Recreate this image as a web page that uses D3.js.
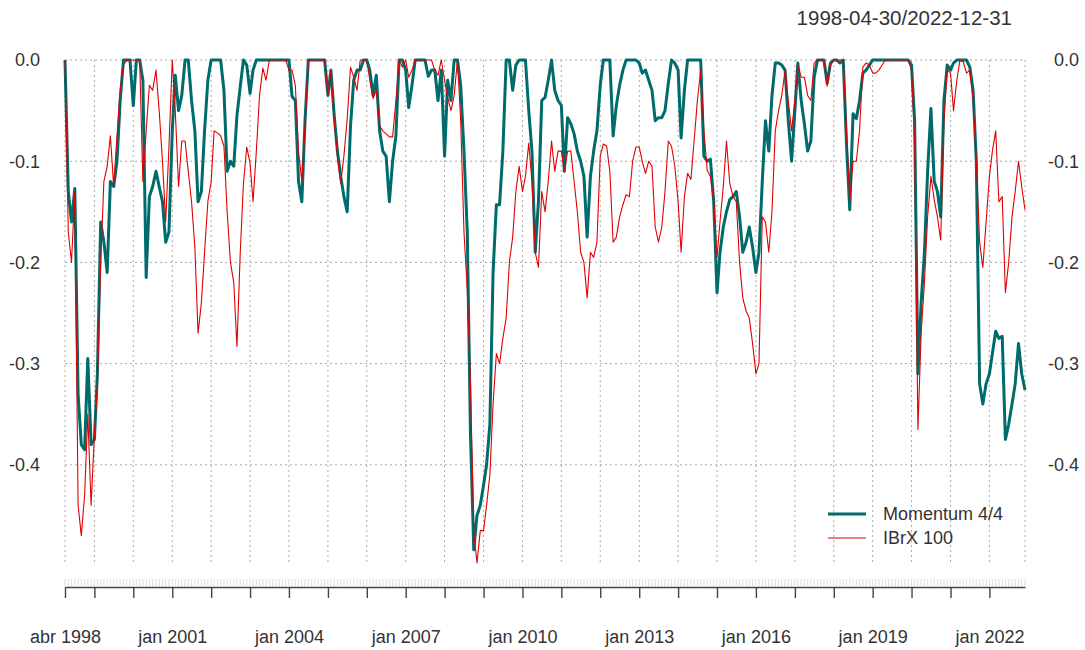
<!DOCTYPE html>
<html>
<head>
<meta charset="utf-8">
<script src="https://cdn.jsdelivr.net/npm/d3@7"></script>
<style>
	body { margin: 0; background: #fff; }
	svg text { font-family: 'Liberation Sans', Arial, sans-serif; fill: #333; }
</style>
</head>
<body>
<div id="chart"></div>
<script>
const w = 1085;
const h = 650;

// month-end observations, 1998-04-30 .. 2022-12-31
const dates = d3.range(297).map(i => new Date(1998, 4 + i, 0));

// drawdowns, one row per year
const momentum = [
	0, -0.13, -0.16, -0.127, -0.33, -0.38, -0.385, -0.295, -0.38,
	-0.375, -0.31, -0.16, -0.18, -0.21, -0.12, -0.125, -0.1, -0.04, 0, 0, 0,
	-0.045, 0, 0, -0.02, -0.215, -0.135, -0.125, -0.11, -0.125, -0.14, -0.18, -0.17,
	-0.07, -0.015, -0.05, -0.035, 0, 0, -0.04, -0.07, -0.14, -0.13, -0.07, -0.02,
	0, 0, 0, 0, -0.03, -0.11, -0.1, -0.105, -0.055, -0.026, 0, -0.005,
	-0.033, -0.01, 0, 0, 0, 0, 0, 0, 0, 0, 0, 0,
	0, -0.036, -0.04, -0.12, -0.14, -0.06, 0, 0, 0, 0, 0, 0,
	-0.035, -0.01, -0.055, -0.09, -0.115, -0.135, -0.15, -0.065, -0.02, -0.01, -0.01, 0,
	0, -0.01, -0.035, -0.015, -0.07, -0.09, -0.095, -0.14, -0.1, -0.075, 0, 0,
	-0.01, -0.047, -0.025, 0, 0, 0, 0, -0.016, -0.01, -0.01, -0.04, -0.01,
	-0.095, -0.02, -0.04, 0, 0, -0.025, -0.09, -0.17, -0.37, -0.484, -0.45, -0.44,
	-0.42, -0.4, -0.36, -0.21, -0.143, -0.143, -0.09, 0, 0, -0.03, -0.005, 0,
	0, 0, -0.05, -0.09, -0.19, -0.14, -0.04, -0.037, -0.02, 0, -0.03, -0.04,
	-0.045, -0.11, -0.057, -0.063, -0.073, -0.09, -0.1, -0.115, -0.175, -0.115, -0.09, -0.07,
	-0.025, 0, 0, 0, -0.075, -0.045, -0.025, -0.01, 0, 0, 0, 0,
	-0.003, -0.013, -0.01, -0.02, -0.03, -0.06, -0.057, -0.057, -0.05, -0.023, 0, -0.003,
	-0.01, -0.077, -0.03, 0, 0, 0, 0, 0, -0.095, -0.1, -0.098, -0.14,
	-0.23, -0.19, -0.165, -0.15, -0.138, -0.135, -0.13, -0.155, -0.19, -0.18, -0.165, -0.185,
	-0.21, -0.19, -0.12, -0.06, -0.09, -0.035, -0.003, -0.003, -0.005, -0.01, -0.06, -0.1,
	-0.05, -0.003, -0.04, -0.063, -0.09, -0.08, -0.017, 0, 0, 0, -0.023, -0.003,
	0, 0, -0.003, 0, -0.085, -0.148, -0.053, -0.058, -0.04, -0.013, -0.01, -0.005,
	0, 0, 0, 0, 0, 0, 0, 0, 0, 0, 0, 0,
	-0.005, -0.06, -0.31, -0.24, -0.19, -0.11, -0.048, -0.12, -0.13, -0.155, -0.04, -0.005,
	-0.01, -0.003, 0, 0, 0, 0, -0.007, -0.03, -0.1, -0.32, -0.34, -0.32,
	-0.31, -0.29, -0.268, -0.275, -0.273, -0.375, -0.36, -0.34, -0.32, -0.28, -0.31, -0.326
];

const ibrx = [
	0, -0.17, -0.2, -0.13, -0.44, -0.47, -0.43, -0.35, -0.44,
	-0.37, -0.32, -0.2, -0.12, -0.105, -0.075, -0.125, -0.075, -0.03, -0.005, 0, 0,
	0, 0, 0, -0.12, -0.07, -0.025, -0.03, -0.01, -0.05, -0.1, -0.16, -0.085,
	0, -0.05, -0.125, -0.08, -0.08, -0.11, -0.14, -0.185, -0.27, -0.24, -0.19, -0.14,
	-0.12, -0.07, -0.072, -0.075, -0.085, -0.15, -0.2, -0.22, -0.283, -0.19, -0.122, -0.086,
	-0.102, -0.14, -0.09, -0.035, -0.008, -0.02, 0, 0, 0, 0, 0, 0,
	-0.01, -0.01, -0.025, -0.09, -0.12, -0.065, 0, 0, 0, 0, 0, 0,
	-0.035, -0.01, -0.06, -0.095, -0.122, -0.095, -0.058, -0.007, -0.017, -0.03, 0, 0,
	0, -0.02, -0.038, -0.03, -0.065, -0.07, -0.073, -0.076, -0.076, -0.04, 0, -0.007,
	0, -0.017, -0.01, 0, 0, 0, 0, 0, 0, -0.01, -0.015, 0,
	-0.02, -0.037, -0.05, -0.035, 0, -0.06, -0.17, -0.227, -0.32, -0.467, -0.497, -0.465,
	-0.465, -0.44, -0.41, -0.34, -0.29, -0.3, -0.275, -0.255, -0.2, -0.175, -0.13, -0.105,
	-0.13, -0.115, -0.082, -0.12, -0.19, -0.205, -0.13, -0.15, -0.12, -0.08, -0.11, -0.09,
	-0.09, -0.11, -0.09, -0.09, -0.12, -0.15, -0.19, -0.2, -0.235, -0.19, -0.195, -0.18,
	-0.095, -0.083, -0.085, -0.11, -0.18, -0.175, -0.155, -0.143, -0.133, -0.135, -0.1, -0.086,
	-0.086, -0.1, -0.112, -0.1, -0.105, -0.165, -0.18, -0.165, -0.13, -0.08, -0.085, -0.105,
	-0.14, -0.19, -0.135, -0.112, -0.118, -0.08, -0.04, -0.01, -0.07, -0.109, -0.115, -0.14,
	-0.195, -0.16, -0.125, -0.08, -0.122, -0.135, -0.14, -0.2, -0.235, -0.248, -0.255, -0.28,
	-0.31, -0.3, -0.155, -0.16, -0.19, -0.15, -0.07, -0.05, -0.035, -0.01, -0.04, -0.07,
	-0.04, -0.005, -0.017, -0.017, -0.035, -0.04, -0.003, 0, 0, 0, -0.026, -0.005,
	0, 0, 0, 0, -0.07, -0.14, -0.1, -0.1, -0.07, -0.007, -0.003, -0.005,
	-0.013, -0.013, -0.01, -0.005, 0, 0, 0, 0, 0, 0, 0, 0,
	-0.01, -0.08, -0.365, -0.27, -0.22, -0.155, -0.115, -0.138, -0.155, -0.178, -0.06, -0.01,
	-0.013, -0.05, -0.02, 0, -0.002, -0.013, -0.01, -0.04, -0.1, -0.18, -0.205, -0.16,
	-0.115, -0.09, -0.07, -0.14, -0.135, -0.23, -0.2, -0.155, -0.13, -0.1, -0.125, -0.148
];

const seriesNames = ['Momentum 4/4', 'IBrX 100'];
const seriesColors = ['#006b6b', '#e00000'];
const yTicks = [0, -0.1, -0.2, -0.3, -0.4];
const xLabels = ['abr 1998', 'jan 2001', 'jan 2004', 'jan 2007', 'jan 2010', 'jan 2013', 'jan 2016', 'jan 2019', 'jan 2022'];
const title = '1998-04-30/2022-12-31';

const plotLeft = 65;
const plotRight = 1025;
const plotTop = 60;
const plotBottom = 563;
const axisY = 587;

const svg = d3
	.select('#chart')
	.append('svg')
	.attr('width', w)
	.attr('height', h)
	.style('background-color', '#fff');

const xScale = d3
	.scaleTime()
	.domain([dates[0], dates[dates.length - 1]])
	.range([plotLeft, plotRight]);

const yScale = d3
	.scaleLinear()
	.domain([d3.min(momentum.concat(ibrx)), 0])
	.range([plotBottom, plotTop]);

// first observation plus every January
const yearTicks = [dates[0]].concat(dates.filter(d => d.getMonth() === 0));
const labelTicks = yearTicks.filter((d, i) => i === 0 || (d.getFullYear() - 2001) % 3 === 0);
const gridX = yearTicks.concat([dates[dates.length - 1]]);

// grid
svg
	.append('g')
	.selectAll('line')
	.data(yTicks)
	.enter()
	.append('line')
	.attr('x1', plotLeft)
	.attr('x2', plotRight)
	.attr('y1', d => yScale(d))
	.attr('y2', d => yScale(d))
	.attr('stroke', '#aaa')
	.attr('stroke-dasharray', '2,3');

svg
	.append('g')
	.selectAll('line')
	.data(gridX)
	.enter()
	.append('line')
	.attr('x1', d => xScale(d))
	.attr('x2', d => xScale(d))
	.attr('y1', plotTop)
	.attr('y2', plotBottom)
	.attr('stroke', '#aaa')
	.attr('stroke-dasharray', '2,3');

// y labels on both sides
[40, 1079].forEach(xPos => {
	svg
		.append('g')
		.selectAll('text')
		.data(yTicks)
		.enter()
		.append('text')
		.attr('x', xPos)
		.attr('y', d => yScale(d))
		.attr('dy', '0.35em')
		.style('text-anchor', 'end')
		.style('font-size', '18px')
		.text(d => d3.format('.1f')(d).replace('−', '-'));
});

// minor ticks, one per observation
svg
	.append('g')
	.selectAll('line')
	.data(dates)
	.enter()
	.append('line')
	.attr('x1', d => xScale(d))
	.attr('x2', d => xScale(d))
	.attr('y1', axisY - 8)
	.attr('y2', axisY - 1)
	.attr('stroke', '#dedede');

const xAxis = d3
	.axisBottom(xScale)
	.tickValues(yearTicks)
	.tickSize(11)
	.tickSizeOuter(0)
	.tickPadding(32)
	.tickFormat(d => {
		const i = labelTicks.indexOf(d);
		return i < 0 ? '' : xLabels[i];
	});

const xg = svg.append('g').attr('transform', `translate(0, ${axisY})`).call(xAxis);
xg.select('.domain').attr('stroke', '#444').attr('stroke-width', 1.6);
xg.selectAll('.tick line').attr('stroke', '#444').attr('stroke-width', 1.4);
xg.selectAll('.tick text').style('font-size', '18px').attr('fill', '#333');

// series
const line = d3
	.line()
	.x((d, i) => xScale(dates[i]))
	.y(d => yScale(d));

[momentum, ibrx].forEach((s, k) => {
	svg
		.append('path')
		.datum(s)
		.attr('fill', 'none')
		.attr('stroke', seriesColors[k])
		.attr('stroke-width', k === 0 ? 3 : 1.1)
		.attr('stroke-linejoin', 'round')
		.attr('d', line);
});

// title
svg
	.append('text')
	.attr('x', 1012)
	.attr('y', 25)
	.style('text-anchor', 'end')
	.style('font-size', '20.5px')
	.text(title);

// legend
const legend = svg.append('g').attr('transform', 'translate(828, 514)');

legend
	.selectAll('line')
	.data(seriesNames)
	.enter()
	.append('line')
	.attr('x1', 0)
	.attr('x2', 38)
	.attr('y1', (d, i) => i * 24)
	.attr('y2', (d, i) => i * 24)
	.attr('stroke', (d, i) => seriesColors[i])
	.attr('stroke-width', (d, i) => (i === 0 ? 3 : 1.1));

legend
	.selectAll('text')
	.data(seriesNames)
	.enter()
	.append('text')
	.attr('x', 55)
	.attr('y', (d, i) => i * 24)
	.attr('dy', '0.35em')
	.style('font-size', '18px')
	.text(d => d);
</script>
</body>
</html>
